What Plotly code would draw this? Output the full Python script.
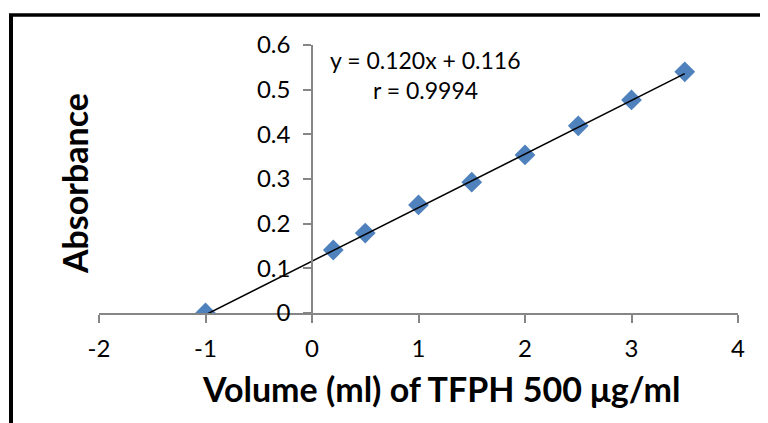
import plotly.graph_objects as go

volume_ml = [-1, 0.2, 0.5, 1.0, 1.5, 2.0, 2.5, 3.0, 3.5]
absorbance = [0.0, 0.141, 0.179, 0.242, 0.293, 0.354, 0.419, 0.477, 0.540]
slope = 0.120
intercept = 0.116
fit_x = [-1, 3.5]
fit_y = [slope * v + intercept for v in fit_x]
x_ticks = [-2, -1, 0, 1, 2, 3, 4]
y_ticks = [0, 0.1, 0.2, 0.3, 0.4, 0.5, 0.6]

FONT = "Lato"
# screen geometry (page is offset 8px by body margin)
OFF = 8
L, R, T, B = 99, 738, 45, 313
W, H = 768 - OFF, 423 - OFF


def px(x):
    return (x - L) / (R - L)


def py(y):
    return (B - y) / (B - T)


fig = go.Figure()
fig.add_trace(go.Scatter(x=volume_ml, y=absorbance, mode="markers",
                         marker=dict(symbol="diamond", size=16, color="#4F81BD",
                                     line=dict(width=0)), showlegend=False))
fig.add_trace(go.Scatter(x=fit_x, y=fit_y, mode="lines",
                         line=dict(color="black", width=1.5), showlegend=False))

axis_common = dict(showgrid=False, zeroline=False, showline=True, linecolor="#868686",
                   linewidth=1.5, ticks="outside", tickcolor="#868686", ticklen=8,
                   tickwidth=1.5, tickfont=dict(family=FONT, size=24, color="black"))
fig.update_layout(
    width=W, height=H, plot_bgcolor="white", paper_bgcolor="white",
    margin=dict(l=L - OFF, r=W - (R - OFF), t=T - OFF, b=H - (B - OFF)),
    xaxis=dict(range=[-2, 4], tickvals=x_ticks, ticktext=[str(t) for t in x_ticks],
               ticklabelstandoff=5, **axis_common),
    yaxis=dict(range=[0, 0.6], tickvals=y_ticks, ticktext=[str(t) for t in y_ticks],
               anchor="free", position=1/3, ticklabelstandoff=8, **axis_common),
)
ann = dict(xref="paper", yref="paper", showarrow=False, xanchor="center", yanchor="middle")
fig.add_annotation(text="y = 0.120x + 0.116", x=px(426), y=py(60),
                   font=dict(family=FONT, size=23, color="black"), **ann)
fig.add_annotation(text="r = 0.9994", x=px(425), y=py(90),
                   font=dict(family=FONT, size=23, color="black"), **ann)
fig.add_annotation(text="<b>Volume (ml) of TFPH 500 μg/ml</b>", x=px(440.5), y=py(388),
                   font=dict(family=FONT, size=34, color="black"), **ann)
fig.add_annotation(text="<b>Absorbance</b>", textangle=-90, x=px(74), y=py(184),
                   font=dict(family=FONT, size=34, color="black"), **ann)
# outer frame
fig.add_shape(type="line", xref="paper", yref="paper", x0=px(11), x1=px(11),
              y0=py(440), y1=py(15), line=dict(color="black", width=4))
fig.add_shape(type="line", xref="paper", yref="paper", x0=px(9), x1=px(790),
              y0=py(15), y1=py(15), line=dict(color="black", width=3.5))
fig.write_html("out.html")
